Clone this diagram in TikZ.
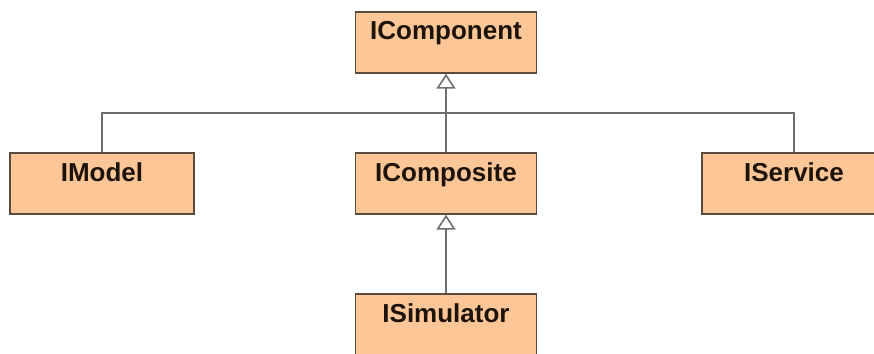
\documentclass[tikz,border=0pt]{standalone}
\usepackage{fontspec}
\setmainfont{Liberation Sans}
\usetikzlibrary{arrows.meta}
\definecolor{boxfill}{RGB}{252,198,150}
\definecolor{boxline}{RGB}{90,75,62}
\definecolor{connline}{RGB}{110,110,110}
\tikzset{
  iface/.style={draw=boxline, line width=1.4pt, fill=boxfill,
    minimum width=181pt, inner xsep=0pt, inner ysep=0pt,
    text height=28pt, text depth=33pt,
    font=\fontsize{26}{28}\selectfont\bfseries, text=black!85!brown},
  conn/.style={draw=connline, line width=2pt},
  inherit/.style={conn, -{Triangle[open, length=15pt, width=19pt, line width=1.6pt, fill=white]}}
}
\begin{document}
\begin{tikzpicture}[x=1pt, y=-1pt]
  \useasboundingbox (0,0) rectangle (874,353);
  \clip (0,0) rectangle (874,353);
  \fill[white] (0,0) rectangle (874,353);
  \node[iface] (component) at (446,42.5) {IComponent};
  \node[iface, minimum width=184pt] (model) at (102,183.5) {IModel};
  \node[iface] (composite) at (446,183.5) {IComposite};
  \node[iface, minimum width=184pt] (service) at (794,183.5) {IService};
  \node[iface] (simulator) at (446,324.5) {ISimulator};
  \coordinate (j) at (446,113);
  \draw[conn] (model.north) |- (j) -| (service.north);
  \draw[inherit] (composite.north) -- (component.south);
  \draw[inherit] (simulator.north) -- (composite.south);
\end{tikzpicture}
\end{document}
